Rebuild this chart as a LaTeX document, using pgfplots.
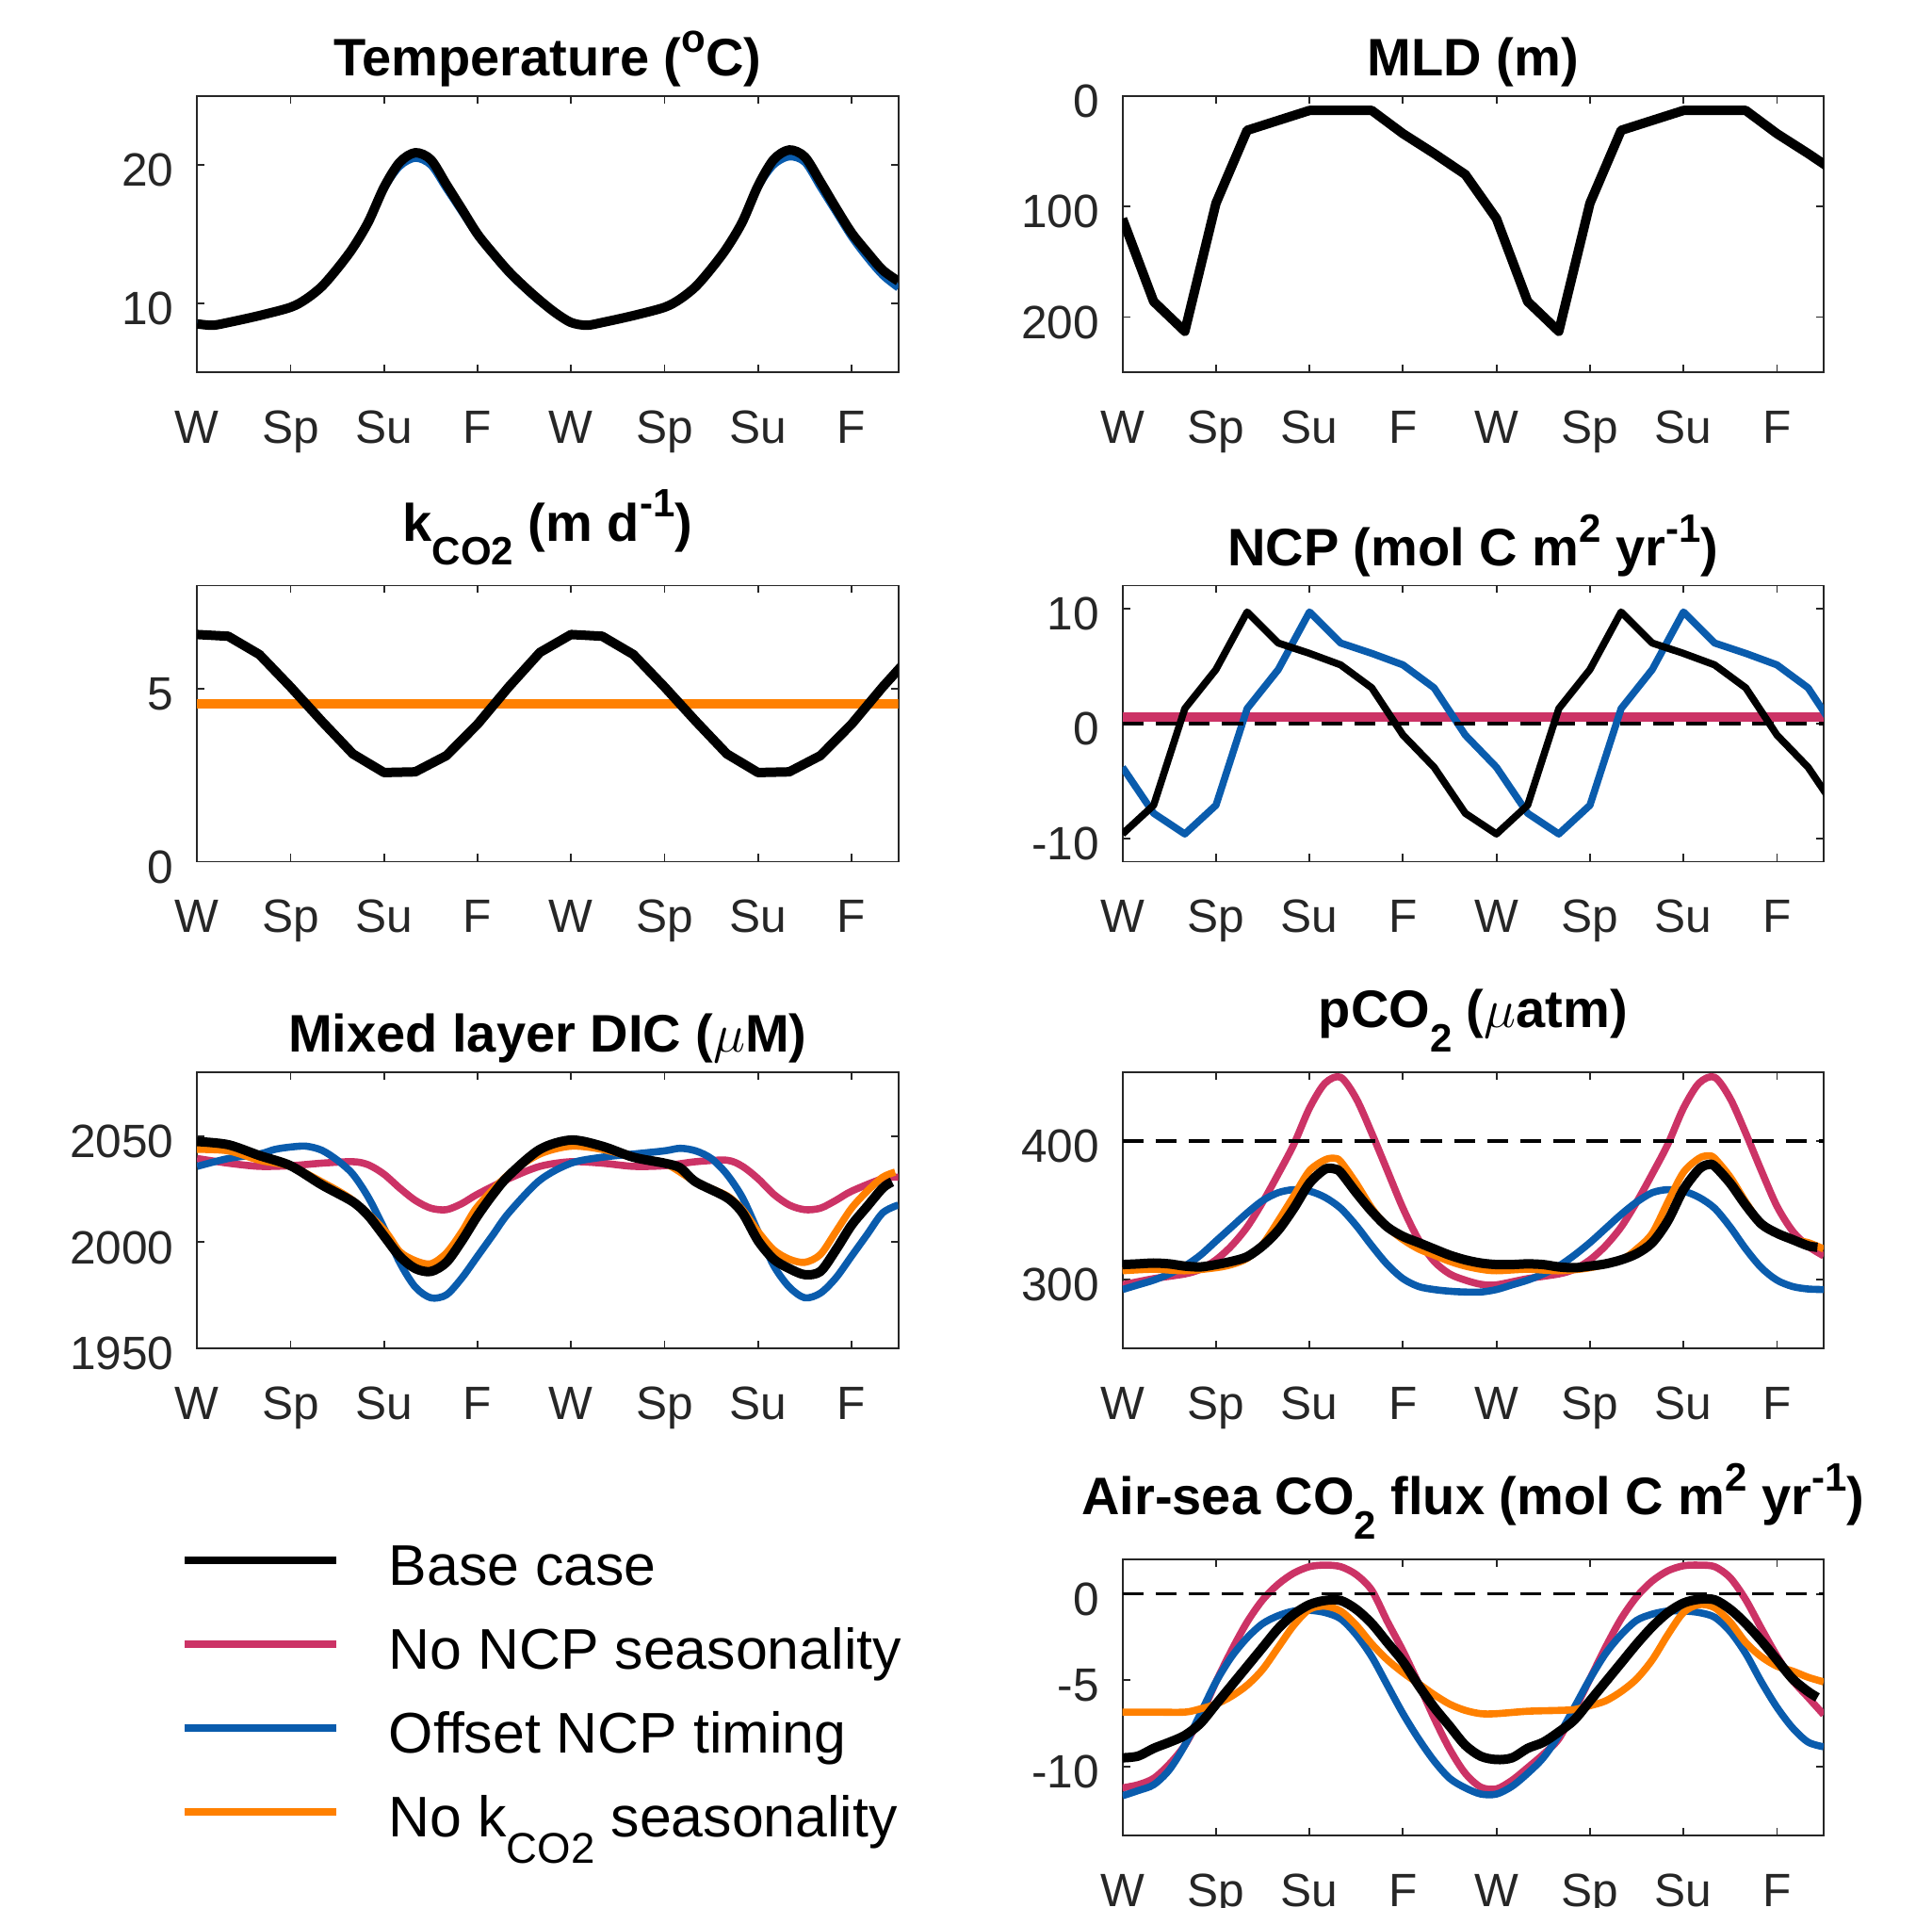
\documentclass[border=0pt]{standalone}
\usepackage{fontspec}
\setmainfont{Liberation Sans}
\usepackage{graphicx}
\usepackage{pgfplots}
\pgfplotsset{compat=1.18}

\definecolor{axgray}{HTML}{262626}
\definecolor{ncpRed}{HTML}{CC3366}
\definecolor{ncpBlue}{HTML}{0A5CAD}
\definecolor{kOrange}{HTML}{FF8000}

\newcommand{\msub}[1]{\raisebox{-0.45em}{\scalebox{0.75}{#1}}}
\newcommand{\msup}[1]{\raisebox{0.45em}{\scalebox{0.75}{#1}}}

\pgfplotsset{
  panel/.style={
    scale only axis, width=186.1pt, height=73.25pt,
    xmin=0, xmax=22.5,
    xtick={0,3,6,9,12,15,18,21},
    xticklabels={W,Sp,Su,F,W,Sp,Su,F},
    tick align=inside, major tick length=2pt,
    axis line style={draw=axgray, line width=0.45pt},
    tick style={draw=axgray, line width=0.45pt},
    tick label style={font=\fontsize{12.4}{14}\selectfont, text=axgray, inner sep=0pt},
    xticklabel style={anchor=base, yshift=-18.8pt},
    yticklabel style={anchor=east, xshift=-6pt, yshift=-1.4pt},
    title style={font=\bfseries\fontsize{14}{16}\selectfont, at={(0.5,1)},
      anchor=base, inner sep=0pt, yshift=-0.7pt},
    every axis plot/.append style={line join=round, no markers},
  },
  subtitle/.style={title style={yshift=6.5pt}},
  basecase/.style={black, line width=2.5pt},
  colored/.style={line width=1.9pt},
  zeroline/.style={black, line width=0.9pt, dash pattern=on 5.6pt off 3.2pt},
}

\begin{document}
\begin{tikzpicture}
\useasboundingbox (0pt,0pt) rectangle (512.75pt,-506pt);

% Temperature
\begin{axis}[panel, at={(52.3pt,-98.75pt)}, anchor=south west,
  title={Temperature (\msup{o}C)},
  ymin=5, ymax=25, ytick={10,20}, yticklabels={10,20}]
\addplot[colored, ncpBlue, smooth] coordinates {
 (0,8.5)(0.5,8.4)(1,8.6)(2,9.1)(3,9.7)(3.5,10.3)(4,11.2)(4.5,12.5)(5,14.0)(5.5,15.9)
 (6,18.3)(6.5,19.9)(7,20.5)(7.5,20.0)(8,18.3)(8.5,16.6)(9,14.9)(9.5,13.5)(10,12.2)
 (10.5,11.1)(11,10.1)(11.5,9.3)(12,8.6)(12.5,8.4)(13,8.6)(14,9.1)(15,9.7)(15.5,10.3)
 (16,11.2)(16.5,12.5)(17,14.0)(17.5,15.9)(18,18.4)(18.5,20.0)(19,20.6)(19.5,20.2)
 (20,18.4)(20.5,16.6)(21,14.8)(21.5,13.3)(22,12.0)(22.5,11.1)};
\addplot[basecase, smooth] coordinates {
 (0,8.5)(0.5,8.4)(1,8.6)(2,9.1)(3,9.7)(3.5,10.3)(4,11.2)(4.5,12.5)(5,14.0)(5.5,15.9)
 (6,18.4)(6.5,20.2)(7,20.9)(7.5,20.4)(8,18.6)(8.5,16.8)(9,15.0)(9.5,13.6)(10,12.3)
 (10.5,11.2)(11,10.2)(11.5,9.3)(12,8.6)(12.5,8.4)(13,8.6)(14,9.1)(15,9.7)(15.5,10.3)
 (16,11.2)(16.5,12.5)(17,14.0)(17.5,15.9)(18,18.5)(18.5,20.4)(19,21.1)(19.5,20.6)
 (20,18.8)(20.5,16.9)(21,15.1)(21.5,13.7)(22,12.4)(22.5,11.6)};
\end{axis}

% MLD
\begin{axis}[panel, at={(297.9pt,-98.75pt)}, anchor=south west,
  title={MLD (m)}, y dir=reverse,
  ymin=0, ymax=250, ytick={0,100,200}, yticklabels={0,100,200}]
\addplot[basecase] coordinates {
 (0,111)(1,186)(2,213)(3,97)(4,31)(5,22)(6,13)(7,13)(8,13)(9,34)(10,52)(11,71)
 (12,111)(13,186)(14,213)(15,97)(16,31)(17,22)(18,13)(19,13)(20,13)(21,34)(22,52)(23,71)};
\end{axis}

% kCO2
\begin{axis}[panel, at={(52.3pt,-228.6pt)}, anchor=south west,
  title={k\msub{CO2} (m d\msup{-1})}, subtitle,
  ymin=0, ymax=8, ytick={0,5}, yticklabels={0,5}]
\addplot[kOrange, line width=2.6pt] coordinates {(0,4.57)(22.5,4.57)};
\addplot[basecase] coordinates {
 (0,6.58)(1,6.53)(2,6.0)(3,5.06)(4,4.07)(5,3.12)(6,2.58)(7,2.6)(8,3.07)(9,3.98)(10,5.06)(11,6.06)
 (12,6.58)(13,6.53)(14,6.0)(15,5.06)(16,4.07)(17,3.12)(18,2.58)(19,2.6)(20,3.07)(21,3.98)(22,5.06)(23,6.06)};
\end{axis}

% NCP
\begin{axis}[panel, at={(297.9pt,-228.6pt)}, anchor=south west,
  title={NCP (mol C m\msup{2} yr\msup{-1})},
  ymin=-12, ymax=12, ytick={-10,0,10}, yticklabels={-10,0,10}]
\addplot[ncpRed, line width=2.4pt] coordinates {(0,0.55)(22.5,0.55)};
\addplot[ncpBlue, line width=1.9pt] coordinates {
 (0,-3.8)(1,-7.8)(2,-9.6)(3,-7.1)(4,1.3)(5,4.7)(6,9.7)(7,7.0)(8,6.1)(9,5.1)(10,3.1)(11,-1.0)
 (12,-3.8)(13,-7.8)(14,-9.6)(15,-7.1)(16,1.3)(17,4.7)(18,9.7)(19,7.0)(20,6.1)(21,5.1)(22,3.1)(23,-1.0)};
\addplot[black, line width=1.9pt] coordinates {
 (0,-9.6)(1,-7.1)(2,1.3)(3,4.7)(4,9.7)(5,7.0)(6,6.1)(7,5.1)(8,3.1)(9,-1.0)(10,-3.8)(11,-7.8)
 (12,-9.6)(13,-7.1)(14,1.3)(15,4.7)(16,9.7)(17,7.0)(18,6.1)(19,5.1)(20,3.1)(21,-1.0)(22,-3.8)(23,-7.8)};
\addplot[zeroline] coordinates {(0,0)(22.5,0)};
\end{axis}

% DIC + legend
\begin{axis}[panel, at={(52.3pt,-357.75pt)}, anchor=south west,
  title={Mixed layer DIC ($\mu$M)},
  ymin=1950, ymax=2080, ytick={1950,2000,2050}, yticklabels={1950,2000,2050},
  legend style={at={(-0.0232,-0.713)}, anchor=north west, draw=none, fill=none,
    inner sep=0pt, outer sep=0pt, row sep=8.55pt, column sep=12.8pt,
    cells={anchor=base west},
    nodes={inner sep=0pt, text height=10.7pt, text depth=3pt,
      font=\fontsize{15.2}{18}\selectfont, text=black}},
  legend image code/.code={\draw[#1, line cap=butt] (0pt,6.7pt) -- (40.25pt,6.7pt);}]
\addlegendimage{black, line width=2.2pt}
\addlegendentry{Base case}
\addlegendimage{ncpRed, line width=2.0pt}
\addlegendentry{No NCP seasonality}
\addlegendimage{ncpBlue, line width=2.0pt}
\addlegendentry{Offset NCP timing}
\addlegendimage{kOrange, line width=2.0pt}
\addlegendentry{No k\msub{CO2} seasonality}
\addplot[colored, ncpRed, smooth, forget plot] coordinates {
 (0,2039.4)(1,2037.2)(2,2035.7)(3,2036)(4,2037.2)(5,2037.9)(5.5,2036.4)(6,2032)(6.5,2025.5)
 (7,2019.7)(7.5,2016)(8,2015.3)(8.5,2018.2)(9,2022.6)(10,2029.9)(11,2035.7)(12,2037.9)
 (13,2037.2)(14,2035.7)(15,2036)(16,2037.9)(17,2038.6)(17.5,2035.7)(18,2029.9)(18.5,2022.6)
 (19,2017.5)(19.5,2015.3)(20,2016)(20.5,2019.7)(21,2024)(22,2029.9)(22.5,2030.6)};
\addplot[colored, ncpBlue, smooth, forget plot] coordinates {
 (0,2035.7)(1,2039.4)(2,2041.5)(2.5,2043.7)(3,2044.8)(3.5,2045.2)(4,2043.3)(4.5,2038.6)
 (5,2032)(5.5,2021)(6,2006.6)(6.5,1990.5)(7,1978.9)(7.5,1973.8)(8,1975.2)(8.5,1983.2)
 (9,1993.4)(9.5,2003.6)(10,2013.8)(11,2029.2)(12,2037.2)(13,2040)(14,2041.5)(15,2043)
 (15.5,2044.2)(16,2043)(16.5,2039.4)(17,2032)(17.5,2021)(18,2005)(18.5,1989)(19,1978.9)
 (19.5,1973.8)(20,1976)(20.5,1983.2)(21,1993.4)(21.5,2003.6)(22,2013.8)(22.5,2017.5)};
\addplot[colored, kOrange, smooth, forget plot] coordinates {
 (0,2043.7)(1,2043)(2,2038.6)(3,2035.7)(4,2028.4)(5,2019.7)(6,2005.8)(6.5,1995.6)(7,1991.3)
 (7.5,1989.8)(8,1994.9)(8.5,2005)(9,2016.8)(10,2032)(11,2041.5)(12,2045.2)(13,2043.7)
 (14,2040)(15,2037.2)(16,2028.4)(17,2021.9)(17.5,2015.3)(18,2005)(18.5,1996.4)(19,1992)
 (19.5,1990.5)(20,1994.2)(20.5,2005)(21,2016)(21.5,2024)(22,2030.6)(22.4,2033)};
\addplot[basecase, smooth, forget plot] coordinates {
 (0,2047.4)(1,2045.9)(2,2040.8)(3,2036)(4,2027)(5,2019)(5.5,2012.4)(6,2002.9)(6.5,1993.4)
 (7,1987.6)(7.5,1986.2)(8,1990.5)(8.5,2000.7)(9,2012.4)(9.5,2022.6)(10,2031.3)(11,2043.7)
 (12,2048.1)(13,2045.2)(14,2040)(15,2037.2)(15.5,2035)(16,2028.4)(17,2021)(17.5,2013.8)
 (18,2000.7)(18.5,1992)(19,1987.6)(19.5,1984.7)(20,1986.2)(20.5,1996.4)(21,2008)
 (21.5,2016.8)(22,2025.5)(22.3,2028.4)};
\end{axis}

% pCO2
\begin{axis}[panel, at={(297.9pt,-357.75pt)}, anchor=south west,
  title={pCO\msub{2} ($\mu$atm)}, subtitle,
  ymin=250, ymax=450, ytick={300,400}, yticklabels={300,400}]
\addplot[colored, ncpRed, smooth] coordinates {
 (0,296)(1,300.5)(2,303.9)(2.5,307.3)(3,314.1)(3.5,324.3)(4,337.9)(4.5,356)(5,376.4)
 (5.5,397.9)(6,424)(6.5,442.1)(7,446.4)(7.5,431)(8,405.8)(8.5,378.7)(9,351.5)(9.5,328.8)
 (10,313)(10.5,303.9)(11,299.4)(11.5,296.4)(12,296)(13,300.5)(14,303.9)(14.5,307.3)
 (15,314.1)(15.5,324.3)(16,337.9)(16.5,356)(17,376.4)(17.5,397.9)(18,424)(18.5,442.1)
 (19,446.4)(19.5,431)(20,405.8)(20.5,378.7)(21,353)(21.5,335)(22,324)(22.5,317)};
\addplot[colored, ncpBlue, smooth] coordinates {
 (0,292.6)(0.5,296)(1,299.4)(1.5,303.9)(2,309.6)(2.5,317.5)(3,327.7)(3.5,337.9)(4,348.1)
 (4.5,357.1)(5,362.8)(5.5,365)(6,363.9)(6.5,359.4)(7,351.5)(7.5,339)(8,324.3)(8.5,310.7)
 (9,300.5)(9.5,294.8)(10,292.6)(10.5,291.4)(11,290.8)(11.5,290.8)(12,292.6)(12.5,296)
 (13,299.4)(13.5,303.9)(14,309.6)(14.5,317.5)(15,326.6)(15.5,336.8)(16,347)(16.5,356)
 (17,362.8)(17.5,365)(18,363.9)(18.5,359.4)(19,351.5)(19.5,337.9)(20,322)(20.5,308.4)
 (21,299.4)(21.5,294.8)(22,293)(22.5,292.6)};
\addplot[colored, kOrange, smooth] coordinates {
 (0,306.2)(1,307.3)(2,306.2)(3,308.4)(3.5,310.7)(4,315.2)(4.5,325.4)(5,342.4)(5.5,360.5)
 (6,378.7)(6.5,386.6)(6.8,387.7)(7,385.4)(7.5,369.6)(8,351.5)(8.5,337.9)(9,328.8)(9.5,322)
 (10,317.5)(10.5,313)(11,309.6)(11.5,307.3)(12,306.2)(13,307.3)(14,306.2)(15,308.4)
 (16,314.1)(16.5,322)(17,333.4)(17.5,356)(18,377.5)(18.5,387.7)(18.8,389.5)(19,387.7)
 (19.5,374.1)(20,356)(20.5,340.1)(21,333.4)(21.5,328.8)(22,326.6)(22.5,322)};
\addplot[basecase, smooth] coordinates {
 (0,310.7)(0.5,311.2)(1,311.8)(1.5,311.2)(2,309.6)(2.5,309)(3,310.7)(3.5,313)(4,316.4)
 (4.5,324.3)(5,335.6)(5.5,351.5)(6,369.6)(6.5,379.8)(6.8,380)(7,377.5)(7.5,362.8)(8,349.2)
 (8.5,337.9)(9,331.1)(9.5,326.6)(10,322)(10.5,317.5)(11,314.1)(11.5,311.8)(12,310.7)
 (12.5,310.7)(13,311.2)(13.5,310.7)(14,309)(14.5,308.4)(15,309.6)(15.5,311.2)(16,314.1)
 (16.5,318.6)(17,326.6)(17.5,342.4)(18,365)(18.5,379.8)(18.8,383.2)(19,382)(19.5,369.6)
 (20,353.7)(20.5,340.1)(21,333.4)(21.5,328.8)(22,324.3)(22.3,323.2)};
\addplot[zeroline] coordinates {(0,400)(22.5,400)};
\end{axis}

% Air-sea flux
\begin{axis}[panel, at={(297.9pt,-487pt)}, anchor=south west,
  title={Air-sea CO\msub{2} flux (mol C m\msup{2} yr\msup{-1})}, subtitle,
  ymin=-14, ymax=2, ytick={-10,-5,0}, yticklabels={-10,-5,0}]
\addplot[colored, ncpRed, smooth] coordinates {
 (0,-11.24)(0.5,-11.06)(1,-10.69)(1.5,-9.87)(2,-8.77)(2.5,-7.12)(3,-5.1)(3.5,-3.27)
 (4,-1.63)(4.5,-0.34)(5,0.57)(5.5,1.21)(6,1.58)(6.5,1.67)(7,1.58)(7.5,1.12)(8,0.21)
 (8.5,-1.6)(9,-3.3)(9.5,-5.2)(10,-7.2)(10.5,-9.0)(11,-10.4)(11.5,-11.2)(12,-11.3)
 (12.5,-10.8)(13,-10.07)(13.5,-9.3)(14,-8.4)(14.5,-6.75)(15,-4.92)(15.5,-3.09)(16,-1.44)
 (16.5,-0.16)(17,0.75)(17.5,1.34)(18,1.63)(18.5,1.67)(19,1.58)(19.5,0.94)(20,-0.34)
 (20.5,-2.0)(21,-3.6)(21.5,-5.0)(22,-6.0)(22.5,-7.0)};
\addplot[colored, ncpBlue, smooth] coordinates {
 (0,-11.7)(0.5,-11.4)(1,-11.06)(1.5,-10.2)(2,-8.77)(2.5,-6.94)(3,-5.1)(3.5,-3.64)(4,-2.54)
 (4.5,-1.72)(5,-1.26)(5.5,-0.99)(6,-0.95)(6.5,-1.08)(7,-1.44)(7.5,-2.36)(8,-3.64)
 (8.5,-5.29)(9,-6.94)(9.5,-8.4)(10,-9.68)(10.5,-10.69)(11,-11.24)(11.5,-11.6)(12,-11.6)
 (12.5,-11.15)(13,-10.4)(13.5,-9.5)(14,-8.2)(14.5,-6.57)(15,-4.92)(15.5,-3.46)(16,-2.36)
 (16.5,-1.53)(17,-1.17)(17.5,-0.99)(18,-0.99)(18.5,-1.08)(19,-1.35)(19.5,-2.18)(20,-3.46)
 (20.5,-5.1)(21,-6.57)(21.5,-7.76)(22,-8.59)(22.5,-8.86)};
\addplot[colored, kOrange, smooth] coordinates {
 (0,-6.85)(1,-6.85)(2,-6.85)(2.5,-6.66)(3,-6.39)(3.5,-5.93)(4,-5.29)(4.5,-4.37)(5,-3.09)
 (5.5,-1.81)(6,-0.89)(6.5,-0.71)(7,-0.99)(7.5,-1.81)(8,-2.9)(8.5,-3.82)(9,-4.56)(9.5,-5.2)
 (10,-5.84)(10.5,-6.39)(11,-6.75)(11.5,-6.94)(12,-6.94)(13,-6.8)(14,-6.75)(14.5,-6.7)
 (15,-6.48)(15.5,-6.2)(16,-5.66)(16.5,-4.92)(17,-3.82)(17.5,-2.36)(18,-1.08)(18.5,-0.62)
 (19,-0.8)(19.5,-1.63)(20,-2.82)(20.5,-3.64)(21,-4.19)(21.5,-4.47)(22,-4.83)(22.5,-5.1)};
\addplot[basecase, smooth] coordinates {
 (0,-9.5)(0.5,-9.4)(1,-8.95)(1.5,-8.6)(2,-8.2)(2.5,-7.5)(3,-6.4)(3.5,-5.3)(4,-4.2)
 (4.5,-3.1)(5,-2.0)(5.5,-1.17)(6,-0.62)(6.5,-0.38)(7,-0.38)(7.5,-0.89)(8,-1.72)(8.5,-2.82)
 (9,-3.92)(9.5,-5.3)(10,-6.57)(10.5,-7.67)(11,-8.77)(11.5,-9.41)(12,-9.6)(12.5,-9.5)
 (13,-8.95)(13.5,-8.6)(14,-8.0)(14.5,-7.3)(15,-6.2)(15.5,-5.1)(16,-4.0)(16.5,-2.9)
 (17,-1.9)(17.5,-1.08)(18,-0.53)(18.5,-0.31)(19,-0.34)(19.5,-0.89)(20,-1.72)(20.5,-2.72)
 (21,-3.82)(21.5,-4.92)(22,-5.66)(22.3,-6.0)};
\addplot[zeroline] coordinates {(0,0)(22.5,0)};
\end{axis}
\end{tikzpicture}
\end{document}
